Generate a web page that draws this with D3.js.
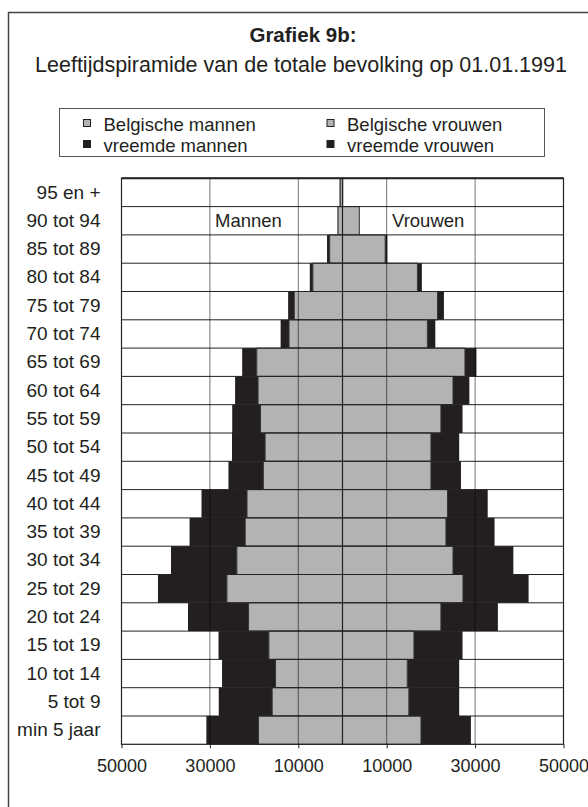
<!DOCTYPE html>
<html lang="nl">

<head>
    <meta charset="UTF-8">
    <title>Grafiek 9b</title>
    <script src="https://d3js.org/d3.v7.min.js"></script>
    <style>
        body { margin: 0; background: #fff; }
        svg text { font-family: "Liberation Sans", Arial, sans-serif; fill: #231f20; }
    </style>
</head>

<body>
    <div id="chart"></div>

    <script>
        // age groups, top to bottom
        const ageGroups = ['95 en +', '90 tot 94', '85 tot 89', '80 tot 84', '75 tot 79', '70 tot 74',
            '65 tot 69', '60 tot 64', '55 tot 59', '50 tot 54', '45 tot 49', '40 tot 44', '35 tot 39',
            '30 tot 34', '25 tot 29', '20 tot 24', '15 tot 19', '10 tot 14', '5 tot 9', 'min 5 jaar'];

        // values
        const belgMen = [500, 1000, 2900, 6700, 10900, 12100, 19400, 19100, 18550, 17500, 17900,
            21600, 22000, 23900, 26150, 21250, 16650, 15150, 15900, 19000];
        const foreignMen = [150, 100, 600, 700, 1400, 1900, 3300, 5200, 6400, 7500, 7900,
            10300, 12600, 14900, 15600, 13700, 11400, 12100, 12100, 11800];
        const belgWomen = [50, 3800, 9650, 16950, 21500, 19200, 27700, 25000, 22250, 20000, 20000,
            23750, 23400, 25000, 27250, 22250, 16150, 14650, 15000, 17750];
        const foreignWomen = [0, 50, 500, 1000, 1450, 1800, 2600, 3700, 4900, 6400, 6800,
            9100, 11000, 13650, 14850, 12900, 11000, 11750, 11400, 11300];

        const tickValues = [-50000, -30000, -10000, 10000, 30000, 50000];
        const gridValues = [-30000, -10000, 10000, 30000];

        const width = 588;
        const height = 807;
        const plot = { left: 121.5, right: 563.5, top: 178.3, bottom: 744.3 };

        const grey = '#b3b3b3';
        const black = '#231f20';

        const svg = d3.select('#chart')
            .append('svg')
            .attr('width', width)
            .attr('height', height);

        // outer frame (runs off the right and bottom of the picture)
        svg.append('rect')
            .attr('x', 8.5).attr('y', 12.5)
            .attr('width', 600).attr('height', 820)
            .attr('fill', 'none')
            .attr('stroke', '#444')
            .attr('stroke-width', 1.5);

        // titles
        svg.append('text')
            .attr('x', 303).attr('y', 41.5)
            .attr('text-anchor', 'middle')
            .style('font-size', '20.5px')
            .style('font-weight', 'bold')
            .text('Grafiek 9b:');

        svg.append('text')
            .attr('x', 301).attr('y', 71.5)
            .attr('text-anchor', 'middle')
            .style('font-size', '21.5px')
            .text('Leeftijdspiramide van de totale bevolking op 01.01.1991');

        // legend
        const legendItems = [
            { label: 'Belgische mannen', color: grey, x: 83.5, y: 130.5 },
            { label: 'vreemde mannen', color: black, x: 83.5, y: 151.5 },
            { label: 'Belgische vrouwen', color: grey, x: 327, y: 130.5 },
            { label: 'vreemde vrouwen', color: black, x: 327, y: 151.5 }
        ];

        svg.append('rect')
            .attr('x', 59.5).attr('y', 108.5)
            .attr('width', 485).attr('height', 48)
            .attr('fill', 'none')
            .attr('stroke', '#555')
            .attr('stroke-width', 1);

        const legend = svg.selectAll('.legend')
            .data(legendItems)
            .enter()
            .append('g');

        legend.append('rect')
            .attr('x', d => d.x)
            .attr('y', d => d.y - 11)
            .attr('width', 7).attr('height', 7)
            .attr('fill', d => d.color)
            .attr('stroke', '#222')
            .attr('stroke-width', 1);

        legend.append('text')
            .attr('x', d => d.x + 20)
            .attr('y', d => d.y)
            .style('font-size', '18.5px')
            .text(d => d.label);

        // scales
        const xScale = d3.scaleLinear()
            .domain([-50000, 50000])
            .range([plot.left, plot.right]);

        const yScale = d3.scaleBand()
            .domain(ageGroups)
            .range([plot.top, plot.bottom])
            .padding(0);

        const rows = ageGroups.map((g, i) => ({
            group: g,
            bm: belgMen[i], fm: foreignMen[i], bw: belgWomen[i], fw: foreignWomen[i]
        }));

        const bars = svg.append('g');

        // foreign men, stacked outside the Belgian men
        bars.selectAll('.fm')
            .data(rows)
            .enter()
            .append('rect')
            .attr('x', d => xScale(-(d.bm + d.fm)))
            .attr('y', d => yScale(d.group))
            .attr('width', d => xScale(0) - xScale(-d.fm))
            .attr('height', yScale.bandwidth())
            .attr('fill', black);

        // foreign women
        bars.selectAll('.fw')
            .data(rows)
            .enter()
            .append('rect')
            .attr('x', d => xScale(d.bw))
            .attr('y', d => yScale(d.group))
            .attr('width', d => xScale(d.fw) - xScale(0))
            .attr('height', yScale.bandwidth())
            .attr('fill', black);

        // Belgian men
        bars.selectAll('.bm')
            .data(rows)
            .enter()
            .append('rect')
            .attr('x', d => xScale(-d.bm))
            .attr('y', d => yScale(d.group))
            .attr('width', d => xScale(0) - xScale(-d.bm))
            .attr('height', yScale.bandwidth())
            .attr('fill', grey)
            .attr('stroke', '#333')
            .attr('stroke-width', 1);

        // Belgian women
        bars.selectAll('.bw')
            .data(rows)
            .enter()
            .append('rect')
            .attr('x', xScale(0))
            .attr('y', d => yScale(d.group))
            .attr('width', d => xScale(d.bw) - xScale(0))
            .attr('height', yScale.bandwidth())
            .attr('fill', grey)
            .attr('stroke', '#333')
            .attr('stroke-width', 1);

        // horizontal row lines
        svg.append('g')
            .selectAll('line')
            .data(ageGroups.slice(1))
            .enter()
            .append('line')
            .attr('x1', plot.left).attr('x2', plot.right)
            .attr('y1', d => yScale(d)).attr('y2', d => yScale(d))
            .attr('stroke', '#222')
            .attr('stroke-width', 1);

        // vertical gridlines
        svg.append('g')
            .selectAll('line')
            .data(gridValues)
            .enter()
            .append('line')
            .attr('x1', d => xScale(d)).attr('x2', d => xScale(d))
            .attr('y1', plot.top).attr('y2', plot.bottom)
            .attr('stroke', 'rgba(0,0,0,0.55)')
            .attr('stroke-width', 1);

        // centre line
        svg.append('line')
            .attr('x1', xScale(0)).attr('x2', xScale(0))
            .attr('y1', plot.top).attr('y2', plot.bottom)
            .attr('stroke', '#222')
            .attr('stroke-width', 1.2);

        // plot frame
        svg.append('rect')
            .attr('x', plot.left).attr('y', plot.top)
            .attr('width', plot.right - plot.left)
            .attr('height', plot.bottom - plot.top)
            .attr('fill', 'none')
            .attr('stroke', '#222')
            .attr('stroke-width', 1.2);

        svg.append('line')
            .attr('x1', plot.left).attr('x2', plot.right)
            .attr('y1', plot.top).attr('y2', plot.top)
            .attr('stroke', '#222')
            .attr('stroke-width', 2);

        // "Mannen" / "Vrouwen" labels
        svg.append('text')
            .attr('x', 215).attr('y', yScale('90 tot 94') + yScale.bandwidth() / 2)
            .attr('dy', '0.36em')
            .style('font-size', '18.5px')
            .text('Mannen');

        svg.append('text')
            .attr('x', 392).attr('y', yScale('90 tot 94') + yScale.bandwidth() / 2)
            .attr('dy', '0.36em')
            .style('font-size', '18.5px')
            .text('Vrouwen');

        // x-axis
        const xAxis = svg.append('g')
            .attr('transform', `translate(0, ${plot.bottom})`)
            .call(d3.axisBottom(xScale)
                .tickValues(tickValues)
                .tickFormat(d => Math.abs(d))
                .tickSize(4)
                .tickPadding(11));
        xAxis.select('.domain').remove();
        xAxis.selectAll('line').attr('stroke', '#222');
        xAxis.selectAll('text')
            .style('font-size', '18px')
            .style('font-family', '"Liberation Sans", Arial, sans-serif')
            .attr('fill', '#333');

        // y-axis labels
        const yAxis = svg.append('g')
            .attr('transform', `translate(${plot.left}, 0)`)
            .call(d3.axisLeft(yScale).tickSize(0).tickPadding(21));
        yAxis.select('.domain').remove();
        yAxis.selectAll('text')
            .style('font-size', '19px')
            .style('font-family', '"Liberation Sans", Arial, sans-serif')
            .attr('fill', '#231f20');
    </script>

</body>

</html>
